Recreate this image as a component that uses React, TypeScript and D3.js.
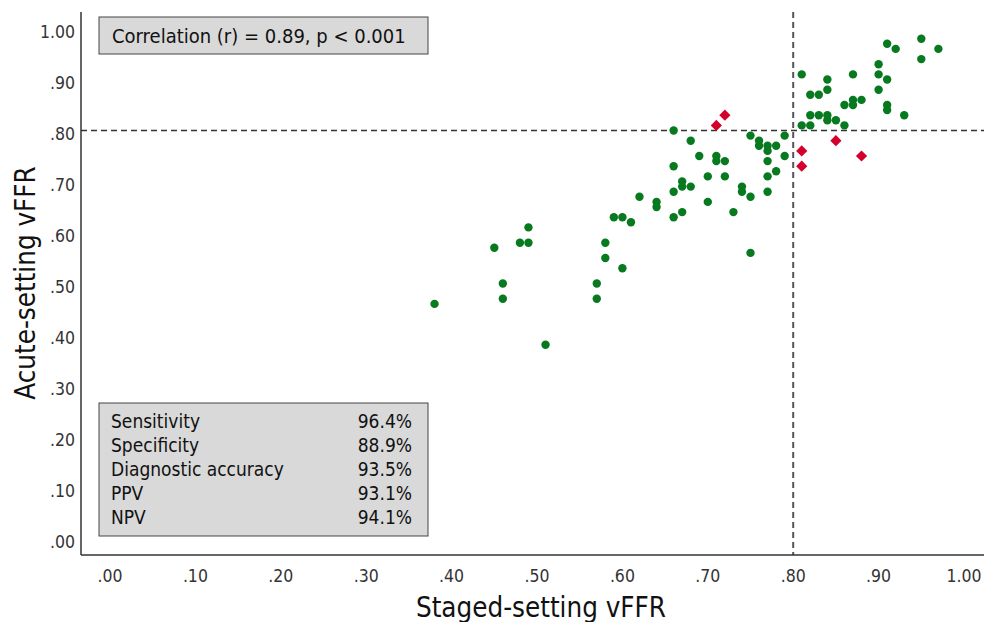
import * as d3 from "d3";

// concordant pairs (green dots)
const greenX = [
  0.38, 0.45, 0.46, 0.46, 0.48, 0.49, 0.49, 0.51, 0.57, 0.57, 0.58, 0.58, 0.59, 0.60, 0.60, 0.61,
  0.62, 0.64, 0.64, 0.66, 0.66, 0.66, 0.66, 0.67, 0.67, 0.67, 0.68, 0.68, 0.69, 0.70, 0.70, 0.71,
  0.71, 0.72, 0.72, 0.73, 0.74, 0.74, 0.75, 0.75, 0.75, 0.76, 0.76, 0.77, 0.77, 0.77, 0.77, 0.77,
  0.78, 0.78, 0.79, 0.79, 0.81, 0.81, 0.82, 0.82, 0.82, 0.83, 0.83, 0.84, 0.84, 0.84, 0.84, 0.85,
  0.86, 0.86, 0.87, 0.87, 0.87, 0.88, 0.90, 0.90, 0.90, 0.91, 0.91, 0.91, 0.91, 0.92, 0.93, 0.95,
  0.95, 0.97,
];
const greenY = [
  0.46, 0.57, 0.50, 0.47, 0.58, 0.58, 0.61, 0.38, 0.50, 0.47, 0.58, 0.55, 0.63, 0.63, 0.53, 0.62,
  0.67, 0.66, 0.65, 0.80, 0.73, 0.68, 0.63, 0.70, 0.69, 0.64, 0.78, 0.69, 0.75, 0.71, 0.66, 0.75,
  0.74, 0.74, 0.71, 0.64, 0.69, 0.68, 0.79, 0.67, 0.56, 0.78, 0.77, 0.77, 0.76, 0.74, 0.71, 0.68,
  0.77, 0.72, 0.79, 0.75, 0.91, 0.81, 0.87, 0.83, 0.81, 0.87, 0.83, 0.90, 0.88, 0.83, 0.82, 0.82,
  0.85, 0.81, 0.91, 0.86, 0.85, 0.86, 0.93, 0.91, 0.88, 0.97, 0.90, 0.85, 0.84, 0.96, 0.83, 0.98,
  0.94, 0.96,
];

// discordant pairs (red diamonds)
const redX = [0.71, 0.72, 0.81, 0.81, 0.85, 0.88];
const redY = [0.81, 0.83, 0.76, 0.73, 0.78, 0.75];

const xTicks = [0, 0.1, 0.2, 0.3, 0.4, 0.5, 0.6, 0.7, 0.8, 0.9, 1.0];
const yTicks = [0, 0.1, 0.2, 0.3, 0.4, 0.5, 0.6, 0.7, 0.8, 0.9, 1.0];
const cutoff = 0.8;

const corrText = "Correlation (r) = 0.89, p < 0.001";
const statNames = ["Sensitivity", "Specificity", "Diagnostic accuracy", "PPV", "NPV"];
const statValues = ["96.4%", "88.9%", "93.5%", "93.1%", "94.1%"];

const fmt = (v: number) => (v >= 1 ? v.toFixed(2) : v.toFixed(2).replace(/^0/, ""));

export default function App() {
  const width = 984;
  const height = 622;
  const axisX = 81;
  const axisY = 555;
  const top = 12;

  const x = d3.scaleLinear([0, 1], [110, 964]);
  const y = d3.scaleLinear([0, 1], [538.5, 28.5]);
  const diamond = d3.symbol(d3.symbolDiamond2, 80)();

  const font = "'DejaVu Sans Condensed', 'DejaVu Sans', sans-serif";

  return (
    <svg
      width={width}
      height={height}
      viewBox={`0 0 ${width} ${height}`}
      style={{ position: "absolute", left: 0, top: 0, display: "block", background: "#fff", fontFamily: font }}
    >
      {/* cutoff lines */}
      <line x1={axisX} x2={width} y1={y(cutoff)} y2={y(cutoff)} stroke="#333" strokeWidth={1.5} strokeDasharray="6,4" />
      <line x1={x(cutoff)} x2={x(cutoff)} y1={top} y2={axisY} stroke="#555" strokeWidth={2} strokeDasharray="6,4" />

      {/* axes */}
      <line x1={axisX} x2={axisX} y1={top} y2={axisY} stroke="#333" strokeWidth={1.5} />
      <line x1={axisX} x2={width} y1={axisY} y2={axisY} stroke="#333" strokeWidth={1.5} />

      {yTicks.map((t) => (
        <text key={"y" + t} x={75} y={y(t) + 9} textAnchor="end" fontSize={17.5} fill="#333">
          {fmt(t)}
        </text>
      ))}
      {xTicks.map((t) => (
        <text key={"x" + t} x={x(t)} y={582} textAnchor="middle" fontSize={17.5} fill="#333">
          {fmt(t)}
        </text>
      ))}

      <text x={541} y={617} textAnchor="middle" fontSize={27.5} fill="#111">
        Staged-setting vFFR
      </text>
      <text transform="translate(35,283) rotate(-90)" textAnchor="middle" fontSize={27.5} fill="#111">
        Acute-setting vFFR
      </text>

      {/* points */}
      {greenX.map((v, i) => (
        <circle key={"g" + i} cx={x(v)} cy={y(greenY[i])} r={4.2} fill="#077a1f" />
      ))}
      {redX.map((v, i) => (
        <path key={"r" + i} d={diamond} transform={`translate(${x(v)},${y(redY[i])})`} fill="#d4002c" />
      ))}

      {/* correlation box */}
      <rect x={99} y={17} width={329} height={37} fill="#d9d9d9" stroke="#444" strokeWidth={1} />
      <text x={112} y={43} fontSize={20} fill="#111">
        {corrText}
      </text>

      {/* diagnostic stats box */}
      <rect x={99} y={403} width={329} height={133} fill="#d9d9d9" stroke="#444" strokeWidth={1} />
      {statNames.map((n, i) => (
        <g key={n}>
          <text x={111} y={428 + i * 24} fontSize={19} fill="#111">
            {n}
          </text>
          <text x={412} y={428 + i * 24} fontSize={19} fill="#111" textAnchor="end">
            {statValues[i]}
          </text>
        </g>
      ))}
    </svg>
  );
}
